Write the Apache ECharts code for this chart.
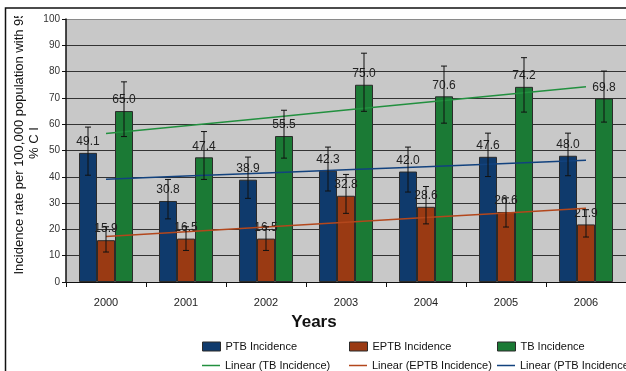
<!DOCTYPE html>
<html>
<head>
<meta charset="utf-8">
<script src="https://cdn.jsdelivr.net/npm/echarts@6/dist/echarts.min.js"></script>
<style>
  html, body { margin: 0; padding: 0; background: #fff; }
  #chart { width: 626px; height: 371px; }
</style>
</head>
<body>
<div id="chart"></div>
<script>
// Incidence per 100,000 population, 2000-2006
const years = ['2000', '2001', '2002', '2003', '2004', '2005', '2006'];
const ptb  = [49.1, 30.8, 38.9, 42.3, 42.0, 47.6, 48.0];
const eptb = [15.9, 16.5, 16.5, 32.8, 28.6, 26.6, 21.9];
const tb   = [65.0, 47.4, 55.5, 75.0, 70.6, 74.2, 69.8];

// 95% confidence limits
const ptbLow   = [40.6, 24.0, 31.8, 34.6, 34.2, 40.1, 40.4];
const ptbHigh  = [58.9, 39.0, 47.5, 51.3, 51.3, 56.6, 56.6];
const eptbLow  = [11.4, 12.0, 12.0, 26.1, 22.1, 20.9, 17.1];
const eptbHigh = [21.0, 21.0, 21.0, 40.9, 36.3, 32.0, 27.5];
const tbLow    = [55.3, 39.0, 47.1, 64.9, 60.4, 64.6, 60.8];
const tbHigh   = [76.1, 57.2, 65.3, 87.0, 82.1, 85.3, 80.2];

const yTicks = [0, 10, 20, 30, 40, 50, 60, 70, 80, 90, 100];

const colPTB = '#0f3a6c', colEPTB = '#9a3a13', colTB = '#1b7a35';
const colPTBLine = '#12427e', colEPTBLine = '#b3471c', colTBLine = '#22903f';

// least-squares trend over the year index
function trend(vals) {
  const n = vals.length;
  let sx = 0, sy = 0, sxx = 0, sxy = 0;
  vals.forEach((v, i) => { sx += i; sy += v; sxx += i * i; sxy += i * v; });
  const b = (n * sxy - sx * sy) / (n * sxx - sx * sx);
  const a = (sy - b * sx) / n;
  return vals.map((_, i) => +(a + b * i).toFixed(3));
}

const BAR_W = 18;

function errorSeries(name, low, high, offset) {
  return {
    type: 'custom',
    name: name,
    z: 6,
    silent: true,
    data: years.map((y, i) => [i, low[i], high[i]]),
    renderItem: function (params, api) {
      const x = api.coord([api.value(0), 0])[0] + offset;
      const yl = api.coord([api.value(0), api.value(1)])[1];
      const yh = api.coord([api.value(0), api.value(2)])[1];
      const st = { stroke: '#111', lineWidth: 1 };
      return {
        type: 'group',
        children: [
          { type: 'line', shape: { x1: x, y1: yh, x2: x, y2: yl }, style: st },
          { type: 'line', shape: { x1: x - 3, y1: yh, x2: x + 3, y2: yh }, style: st },
          { type: 'line', shape: { x1: x - 3, y1: yl, x2: x + 3, y2: yl }, style: st }
        ]
      };
    }
  };
}

function barSeries(name, vals, color) {
  return {
    type: 'bar',
    name: name,
    data: vals,
    barWidth: BAR_W,
    barGap: '0%',
    itemStyle: { color: color, borderColor: '#2b2b2b', borderWidth: 1 },
    label: {
      show: true,
      position: 'top',
      distance: 5,
      formatter: p => p.value.toFixed(1),
      fontFamily: 'Liberation Sans, Arial, sans-serif',
      fontSize: 12,
      color: '#222'
    },
    z: 3
  };
}

function trendSeries(name, vals, color) {
  return {
    type: 'line',
    name: name,
    data: trend(vals),
    symbol: 'none',
    showSymbol: false,
    lineStyle: { color: color, width: 1.5 },
    itemStyle: { color: color },
    z: 5,
    silent: true
  };
}

const legendFont = { fontFamily: 'Liberation Sans, Arial, sans-serif', fontSize: 11, color: '#111' };
function legendAt(name, left, top, isLine) {
  return {
    data: [{ name: name, icon: 'rect' }],
    left: left,
    top: top,
    itemWidth: 18,
    itemHeight: isLine ? 1.5 : 9,
    itemGap: 4,
    padding: 0,
    textStyle: legendFont,
    itemStyle: isLine ? { borderWidth: 0 } : { borderColor: '#2b2b2b', borderWidth: 1 },
    selectedMode: false
  };
}

const chart = echarts.init(document.getElementById('chart'), null, { renderer: 'canvas' });

chart.setOption({
  animation: false,
  backgroundColor: '#ffffff',
  textStyle: { fontFamily: 'Liberation Sans, Arial, sans-serif' },
  grid: {
    left: 66, top: 19, right: -2, bottom: 89,
    show: true, backgroundColor: '#c8c8c8', borderWidth: 0
  },
  xAxis: {
    type: 'category',
    data: years,
    axisLine: { lineStyle: { color: '#111', width: 1 } },
    axisTick: { show: true, length: 5, lineStyle: { color: '#111' } },
    axisLabel: { fontSize: 11, color: '#222', margin: 15 }
  },
  yAxis: {
    type: 'value',
    min: 0, max: 100, interval: 10,
    axisLine: { show: true, lineStyle: { color: '#111', width: 1.5 } },
    axisTick: { show: true, length: 4, lineStyle: { color: '#111' } },
    axisLabel: {
      fontSize: 10, color: '#333', margin: 6,
      formatter: v => (yTicks.indexOf(v) >= 0 ? String(v) : '')
    },
    splitLine: {
      show: true,
      lineStyle: {
        color: ['#333', '#333', '#333', '#333', '#333', '#333', '#333', '#333', '#333', '#333', '#8a8a8a'],
        width: 1
      }
    }
  },
  legend: [
    legendAt('PTB Incidence', 202, 341, false),
    legendAt('EPTB Incidence', 349, 341, false),
    legendAt('TB Incidence', 497, 341, false),
    legendAt('Linear (TB Incidence)', 202, 360, true),
    legendAt('Linear (EPTB Incidence)', 349, 360, true),
    legendAt('Linear (PTB Incidence)', 497, 360, true)
  ],
  series: [
    barSeries('PTB Incidence', ptb, colPTB),
    barSeries('EPTB Incidence', eptb, colEPTB),
    barSeries('TB Incidence', tb, colTB),
    trendSeries('Linear (TB Incidence)', tb, colTBLine),
    trendSeries('Linear (EPTB Incidence)', eptb, colEPTBLine),
    trendSeries('Linear (PTB Incidence)', ptb, colPTBLine),
    errorSeries('ptb-ci', ptbLow, ptbHigh, -BAR_W),
    errorSeries('eptb-ci', eptbLow, eptbHigh, 0),
    errorSeries('tb-ci', tbLow, tbHigh, BAR_W)
  ],
  graphic: [
    {
      type: 'text',
      x: 27, y: 143,
      rotation: Math.PI / 2,
      z: 10,
      style: {
        text: 'Incidence rate per 100,000 population with 95\n% C I',
        font: '13px "Liberation Sans", Arial, sans-serif',
        fill: '#111',
        textAlign: 'center',
        textVerticalAlign: 'middle',
        lineHeight: 15
      }
    },
    {
      // clip the overflowing end of the axis title
      type: 'rect', z: 11,
      shape: { x: 8, y: 9, width: 24, height: 7 },
      style: { fill: '#ffffff' }
    },
    {
      type: 'rect', z: 12,
      shape: { x: 5.5, y: 8, width: 800, height: 600 },
      style: { fill: 'none', stroke: '#111', lineWidth: 1.5 }
    },
    {
      type: 'text',
      x: 314, y: 322, z: 10,
      style: {
        text: 'Years',
        font: 'bold 17px "Liberation Sans", Arial, sans-serif',
        fill: '#111',
        textAlign: 'center',
        textVerticalAlign: 'middle'
      }
    }
  ]
});
</script>
</body>
</html>
